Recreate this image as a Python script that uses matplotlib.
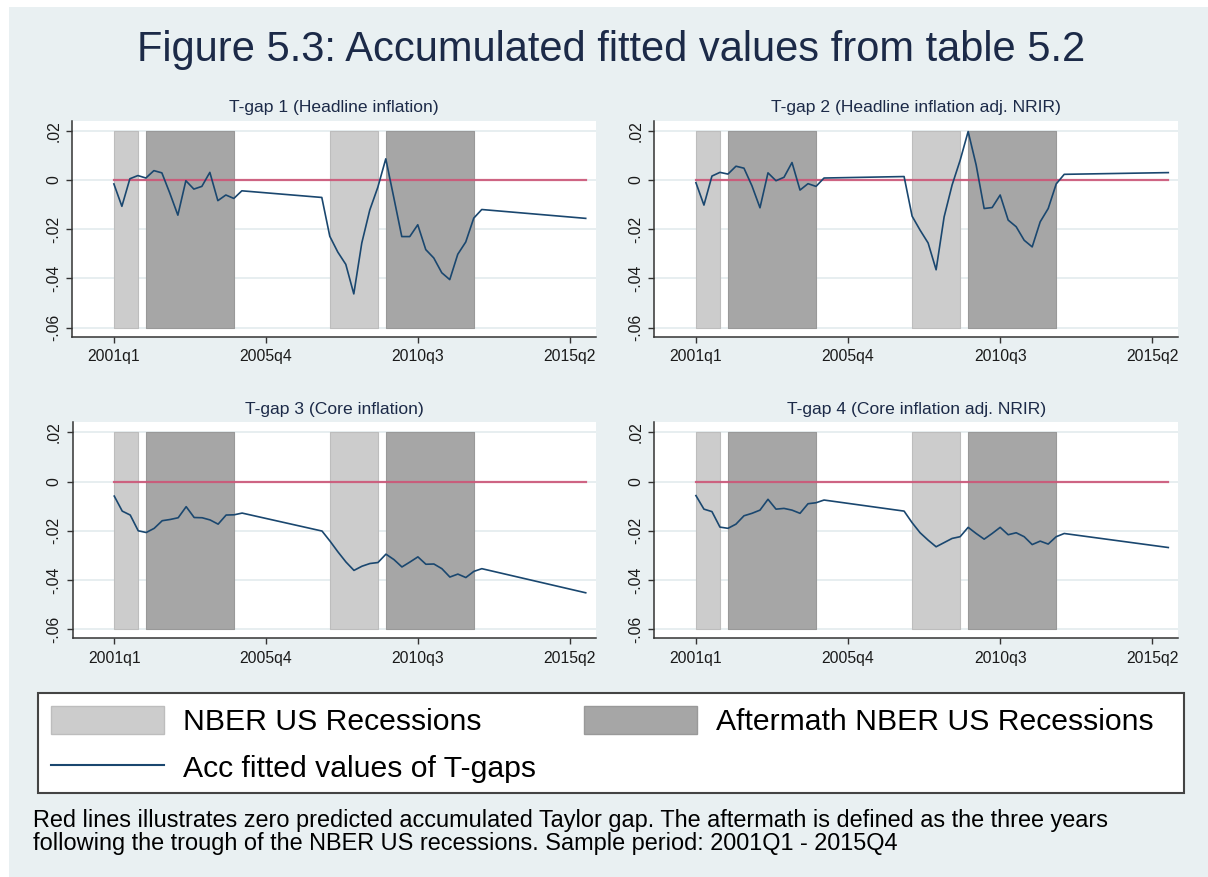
import matplotlib
matplotlib.use("Agg")
import matplotlib.pyplot as plt
from matplotlib.patches import Patch, Rectangle
from matplotlib.lines import Line2D

plt.rcParams['font.family'] = ['Liberation Sans', 'DejaVu Sans']

# ---------------- data ----------------
# quarter index: 0 = 2001q1 ... 59 = 2015q4
quarters = list(range(0, 17)) + list(range(26, 47)) + [59]

tgap1 = [-0.0016, -0.0107, 0.0005, 0.0018, 0.0008, 0.0038, 0.0029, -0.0054, -0.0143,
         -0.0003, -0.0037, -0.0026, 0.0031, -0.0084, -0.0061, -0.0075, -0.0044,
         -0.0071, -0.0229, -0.0293, -0.0343, -0.0463, -0.0256, -0.0122, -0.0030, 0.0086,
         -0.0071, -0.0230, -0.0230, -0.0182, -0.0283, -0.0317, -0.0377, -0.0405, -0.0302,
         -0.0252, -0.0155, -0.0120,
         -0.0156]
tgap2 = [-0.0011, -0.0102, 0.0016, 0.0031, 0.0024, 0.0056, 0.0048, -0.0024, -0.0113,
         0.0029, -0.0003, 0.0011, 0.0071, -0.0041, -0.0015, -0.0026, 0.0008,
         0.0014, -0.0147, -0.0204, -0.0256, -0.0365, -0.0150, -0.0020, 0.0080, 0.0197,
         0.0061, -0.0116, -0.0112, -0.0061, -0.0163, -0.0190, -0.0245, -0.0272, -0.0170,
         -0.0116, -0.0016, 0.0023,
         0.0030]
tgap3 = [-0.0059, -0.0120, -0.0136, -0.0200, -0.0207, -0.0190, -0.0159, -0.0154, -0.0147,
         -0.0102, -0.0146, -0.0147, -0.0156, -0.0173, -0.0136, -0.0135, -0.0128,
         -0.0201, -0.0242, -0.0286, -0.0327, -0.0361, -0.0344, -0.0333, -0.0329, -0.0295,
         -0.0317, -0.0347, -0.0327, -0.0306, -0.0336, -0.0335, -0.0354, -0.0388, -0.0376,
         -0.0390, -0.0365, -0.0354,
         -0.0452]
tgap4 = [-0.0057, -0.0112, -0.0122, -0.0185, -0.0190, -0.0173, -0.0139, -0.0129, -0.0116,
         -0.0072, -0.0112, -0.0109, -0.0116, -0.0129, -0.0090, -0.0086, -0.0075,
         -0.0120, -0.0167, -0.0208, -0.0238, -0.0265, -0.0248, -0.0231, -0.0224, -0.0186,
         -0.0211, -0.0234, -0.0211, -0.0186, -0.0216, -0.0208, -0.0224, -0.0256, -0.0242,
         -0.0254, -0.0224, -0.0211,
         -0.0268]

panel_titles = ["T-gap 1 (Headline inflation)", "T-gap 2 (Headline inflation adj. NRIR)",
                "T-gap 3 (Core inflation)", "T-gap 4 (Core inflation adj. NRIR)"]
series = [tgap1, tgap2, tgap3, tgap4]

nber_periods = [(0, 3), (27, 33)]          # 2001q1-2001q4, 2007q4-2009q2
aftermath_periods = [(4, 15), (34, 45)]    # 2002q1-2004q4, 2009q3-2012q2
zero_line_q = [0, 59]

xtick_pos = [0, 19, 38, 57]
xtick_labels = ["2001q1", "2005q4", "2010q3", "2015q2"]
ytick_pos = [-0.06, -0.04, -0.02, 0.0, 0.02]
ytick_labels = ["-.06", "-.04", "-.02", "0", ".02"]

title = "Figure 5.3: Accumulated fitted values from table 5.2"
legend_labels = ["NBER US Recessions", "Aftermath NBER US Recessions", "Acc fitted values of T-gaps"]
note = ("Red lines illustrates zero predicted accumulated Taylor gap. The aftermath is defined as the three years\n"
        "following the trough of the NBER US recessions. Sample period: 2001Q1 - 2015Q4")

# ---------------- style ----------------
W, H = 1208, 877
BG = "#e9f0f2"
LIGHT = "#cccccc"
DARK = "#a6a6a6"
NAVY = "#1a476f"
RED = "#cc5577"
TXT = "#1c2a48"
SHADE_LO, SHADE_HI = -0.06, 0.02

fig = plt.figure(figsize=(W / 100, H / 100), dpi=100, facecolor="white")
fig.patches.append(Rectangle((9 / W, 0), 1 - 9 / W, 1 - 7 / H, transform=fig.transFigure,
                             facecolor=BG, edgecolor="none", zorder=-10))

fig.text(611 / W, 1 - 50 / H, title, ha="center", va="center", fontsize=30, color=TXT)

def px_axes(left, top, right, bottom):
    return [left / W, 1 - bottom / H, (right - left) / W, (bottom - top) / H]

boxes = [px_axes(72.3, 120.7, 595.7, 336.7), px_axes(654.3, 120.7, 1178.3, 336.7),
         px_axes(72.7, 422.3, 595.7, 638.3), px_axes(654.3, 422.3, 1178.3, 638.3)]

for box, ttl, vals in zip(boxes, panel_titles, series):
    ax = fig.add_axes(box)
    ax.set_facecolor("white")
    ax.set_xlim(-5.2, 60.25)
    ax.set_ylim(-0.0637, 0.0241)
    ax.set_axisbelow(True)
    ax.yaxis.grid(True, color="#e3ebee", lw=1.2)
    for s, e in nber_periods:
        ax.fill_between([s, e], SHADE_LO, SHADE_HI, facecolor=LIGHT, edgecolor="#bdbdbd", lw=0.8, zorder=1)
    for s, e in aftermath_periods:
        ax.fill_between([s, e], SHADE_LO, SHADE_HI, facecolor=DARK, edgecolor="#999999", lw=0.8, zorder=1)
    ax.plot(zero_line_q, [0, 0], color=RED, lw=1.6, alpha=0.9, zorder=2)
    ax.plot(quarters, vals, color=NAVY, lw=1.2, zorder=3)
    ax.set_xticks(xtick_pos)
    ax.set_xticklabels(xtick_labels)
    ax.set_yticks(ytick_pos)
    ax.set_yticklabels(ytick_labels, rotation=90, va="center")
    ax.tick_params(axis="both", direction="out", length=4, width=1, color="#333333",
                   labelsize=11.3, labelcolor="#1a1a1a")
    ax.tick_params(axis="x", pad=5)
    ax.tick_params(axis="y", pad=4)
    for sp in ["top", "right"]:
        ax.spines[sp].set_visible(False)
    for sp in ["left", "bottom"]:
        ax.spines[sp].set_color("#333333")
        ax.spines[sp].set_linewidth(1.1)
    ax.set_title(ttl, fontsize=12.6, color=TXT, pad=6)

# legend box
fig.patches.append(Rectangle((37.5 / W, 1 - 792.7 / H), (1183.5 - 37.5) / W, (792.7 - 693.3) / H,
                             transform=fig.transFigure, facecolor="white", edgecolor="#444444",
                             lw=1.5, zorder=1))
handles = [Patch(facecolor=LIGHT, edgecolor="#bdbdbd"),
           Line2D([], [], color=NAVY, lw=1.5),
           Patch(facecolor=DARK, edgecolor="#999999")]
labels = [legend_labels[0], legend_labels[2], legend_labels[1]]
leg = fig.legend(handles, labels, ncol=2, loc="upper left",
                 bbox_to_anchor=(51 / W, 1 - 706 / H), fontsize=21.7,
                 frameon=False, handlelength=3.75, handleheight=1.06, handletextpad=0.62,
                 columnspacing=1.6, labelspacing=0.55, borderpad=0, borderaxespad=0)
leg.set_zorder(5)

fig.text(33 / W, 1 - 832 / H, note, ha="left", va="center", fontsize=16.9,
         color="black", linespacing=0.98)

fig.savefig("out.png", dpi=100, facecolor=fig.get_facecolor())
